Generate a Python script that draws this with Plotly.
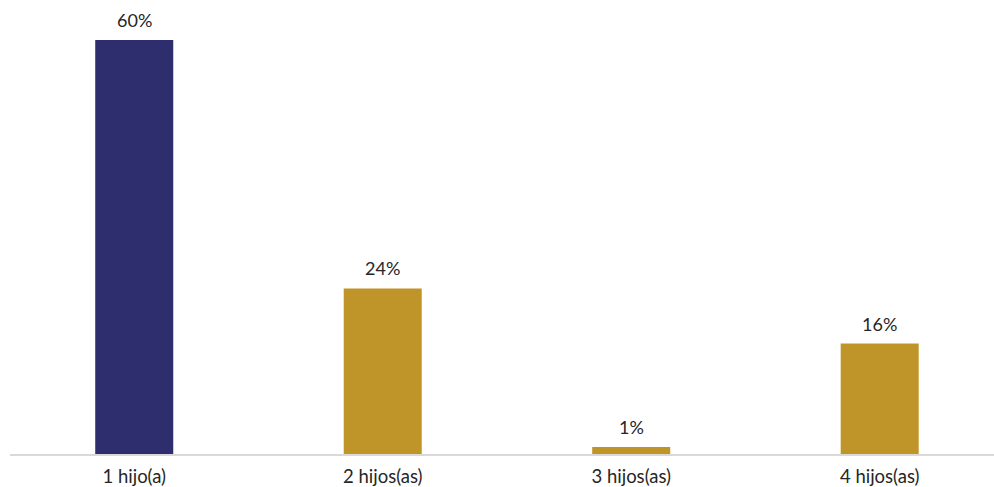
import plotly.graph_objects as go

categories = ["1 hijo(a)", "2 hijos(as)", "3 hijos(as)", "4 hijos(as)"]
values = [60, 24, 1, 16]
labels = ["60%", "24%", "1%", "16%"]
colors = ["#2E2D6E", "#BF9529", "#BF9529", "#BF9529"]

FONT = "Lato, Open Sans, sans-serif"

fig = go.Figure(go.Bar(
    x=categories, y=values,
    marker=dict(color=colors, line=dict(width=0)),
    width=0.314, cliponaxis=False,
))
for c, v, t in zip(categories, values, labels):
    fig.add_annotation(x=c, y=v, text=t, showarrow=False, yanchor="bottom",
                       yshift=7, font=dict(size=18, color="#262626", family=FONT))
fig.update_layout(
    width=994, height=487,
    margin=dict(l=10, r=0, t=10, b=33),
    paper_bgcolor="white", plot_bgcolor="white",
    showlegend=False,
    font=dict(family=FONT, size=18, color="#262626"),
    xaxis=dict(range=[-0.5, 3.46], showline=True, linecolor="#D9D9D9", linewidth=1.5,
               ticks="", showgrid=False, ticklabelstandoff=5,
               tickfont=dict(size=18.5, color="#262626")),
    yaxis=dict(range=[0, 64.35], visible=False, showgrid=False),
)
fig.write_html(
    "out.html",
    config={"displayModeBar": False},
    post_script="document.body.style.margin='0';document.body.style.overflow='hidden';",
)
